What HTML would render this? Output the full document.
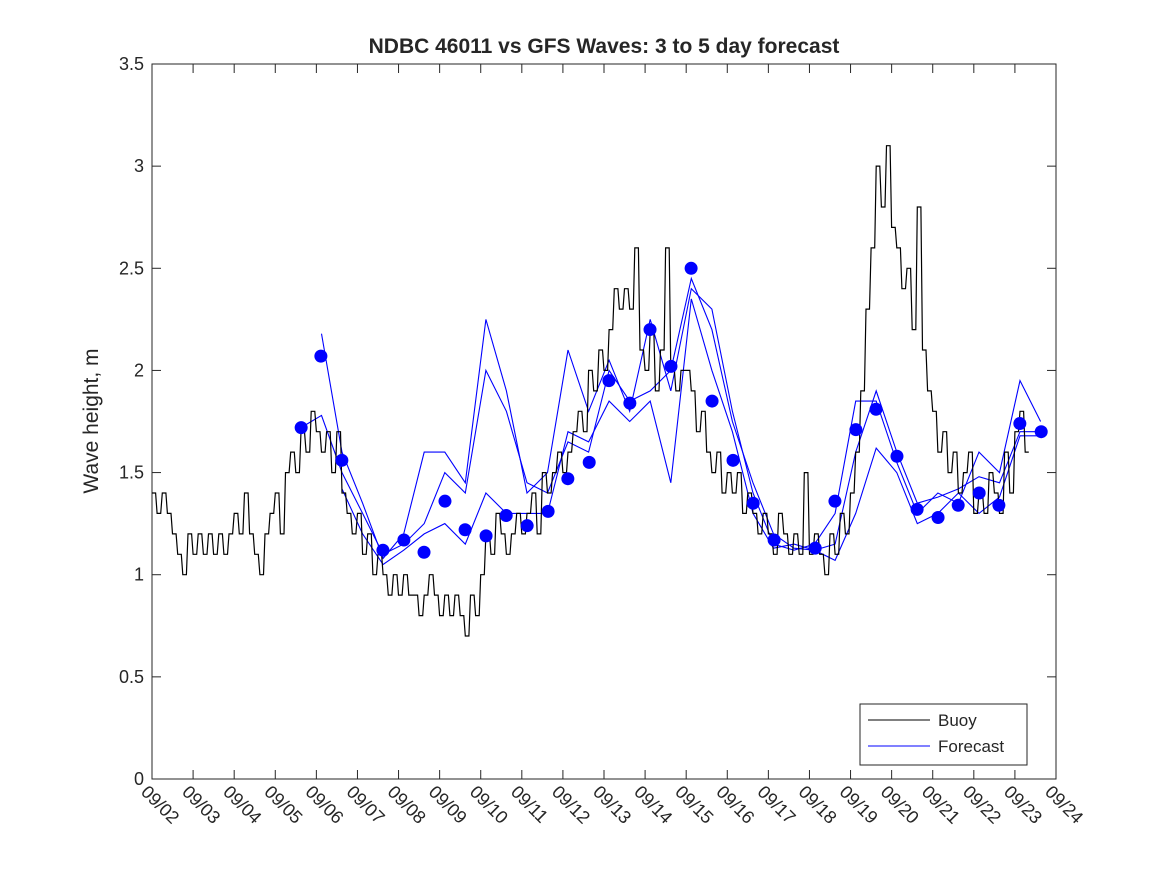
<!DOCTYPE html>
<html><head><meta charset="utf-8"><style>
body{margin:0;background:#fff;}
svg text{font-family:"Liberation Sans","DejaVu Sans",sans-serif;fill:#262626;}
</style></head><body>
<svg id="chart" width="1167" height="875">
<rect width="1167" height="875" fill="#fff"/>
<text x="604" y="53" text-anchor="middle" font-size="21" font-weight="bold" fill="#000">NDBC 46011 vs GFS Waves: 3 to 5 day forecast</text>
<text transform="translate(98,421) rotate(-90)" text-anchor="middle" font-size="21">Wave height, m</text>
<g id="axes"></g>
<g id="series"></g>
<g>
<rect x="860" y="704" width="167" height="61" fill="#fff" stroke="#262626" stroke-width="1"/>
<line x1="868" y1="720" x2="930" y2="720" stroke="#000"/>
<text x="938" y="726" font-size="17">Buoy</text>
<line x1="868" y1="746" x2="930" y2="746" stroke="#0000ff"/>
<text x="938" y="752" font-size="17">Forecast</text>
</g>
</svg>
<script>
const xLabels=["09/02","09/03","09/04","09/05","09/06","09/07","09/08","09/09","09/10","09/11","09/12","09/13","09/14","09/15","09/16","09/17","09/18","09/19","09/20","09/21","09/22","09/23","09/24"];
const yTicks=[0,0.5,1,1.5,2,2.5,3,3.5];
const yTickLabels=["0","0.5","1","1.5","2","2.5","3","3.5"];
// buoy: 3-hourly values starting 09/02 00h
const buoy=[1.4,1.3,1.4,1.3,1.2,1.1,1.0,1.2,
1.1,1.2,1.1,1.2,1.1,1.2,1.1,1.2,
1.3,1.2,1.4,1.2,1.1,1.0,1.2,1.3,
1.4,1.2,1.5,1.6,1.5,1.7,1.6,1.8,
1.7,1.6,1.7,1.5,1.7,1.4,1.3,1.2,
1.3,1.1,1.2,1.0,1.1,1.0,0.9,1.0,
0.9,1.0,0.9,0.9,0.8,0.9,1.0,0.9,
0.8,0.9,0.8,0.9,0.8,0.7,0.9,0.8,
1.0,1.2,1.1,1.3,1.2,1.1,1.2,1.3,
1.2,1.3,1.4,1.2,1.5,1.4,1.5,1.6,
1.5,1.6,1.7,1.8,1.7,2.0,1.9,2.1,
2.0,2.2,2.4,2.3,2.4,2.3,2.6,2.1,
2.0,2.2,1.9,2.1,2.6,2.0,1.9,2.0,
2.0,1.9,1.7,1.8,1.6,1.5,1.6,1.4,
1.5,1.4,1.5,1.3,1.4,1.3,1.2,1.3,
1.2,1.1,1.3,1.2,1.1,1.2,1.1,1.5,
1.1,1.2,1.1,1.0,1.2,1.1,1.3,1.2,
1.4,1.6,1.9,2.3,2.6,3.0,2.8,3.1,
2.7,2.6,2.4,2.5,2.2,2.8,2.1,1.9,
1.8,1.6,1.7,1.5,1.6,1.4,1.5,1.6,
1.3,1.4,1.3,1.5,1.4,1.3,1.6,1.4,
1.7,1.8,1.6];
// forecast lines: half-day steps starting at day 3.625
const fcA=[1.72,1.78,1.5,1.3,1.1,1.15,1.25,1.5,1.4,2.0,1.8,1.45,1.4,1.65,1.6,2.0,1.85,1.9,2.0,2.45,2.2,1.75,1.45,1.2,1.13,1.12,1.15,1.6,1.9,1.6,1.35,1.38,1.42,1.48,1.45,1.7,1.7];
const fcB=[null,2.18,1.6,1.35,1.08,1.2,1.6,1.6,1.45,2.25,1.9,1.4,1.5,2.1,1.8,2.05,1.8,2.25,1.9,2.4,2.3,1.8,1.4,1.15,1.12,1.15,1.3,1.85,1.85,1.55,1.3,1.4,1.35,1.6,1.5,1.95,1.75];
const fcC=[null,null,1.42,1.2,1.05,1.12,1.2,1.25,1.15,1.4,1.3,1.3,1.3,1.7,1.65,1.85,1.75,1.85,1.45,2.35,2.0,1.7,1.3,1.13,1.15,1.12,1.07,1.3,1.62,1.5,1.25,1.3,1.4,1.3,1.38,1.68,1.68];
const dotDays=[3.63,4.11,4.62,5.62,6.13,6.62,7.13,7.62,8.13,8.62,9.13,9.64,10.12,10.64,11.12,11.63,12.12,12.63,13.12,13.63,14.14,14.63,15.14,16.14,16.62,17.13,17.62,18.13,18.62,19.13,19.62,20.13,20.61,21.12,21.64];
const dotVals=[1.72,2.07,1.56,1.12,1.17,1.11,1.36,1.22,1.19,1.29,1.24,1.31,1.47,1.55,1.95,1.84,2.20,2.02,2.50,1.85,1.56,1.35,1.17,1.13,1.36,1.71,1.81,1.58,1.32,1.28,1.34,1.40,1.34,1.74,1.70];

const L=152,R=1056,T=64,B=779;
const xs=d=>L+(R-L)*d/22;
const ys=v=>B-(B-T)*v/3.5;
const NS="http://www.w3.org/2000/svg";
function mk(tag,attrs,parent){const e=document.createElementNS(NS,tag);for(const k in attrs)e.setAttribute(k,attrs[k]);parent.appendChild(e);return e;}
const axes=document.getElementById('axes'),ser=document.getElementById('series');
const frame=mk('rect',{x:L,y:T,width:R-L,height:B-T,fill:'none',stroke:'#262626','stroke-width':1},axes);


xLabels.forEach((lab,i)=>{const x=xs(i);
 mk('line',{x1:x,y1:B,x2:x,y2:B-9,stroke:'#262626'},axes);
 mk('line',{x1:x,y1:T,x2:x,y2:T+9,stroke:'#262626'},axes);
 const t=mk('text',{x:0,y:0,'font-size':18,transform:`translate(${x-12},${B+14}) rotate(45)`},axes);
 t.textContent=lab;
 
 
});
yTicks.forEach((v,i)=>{const y=ys(v);
 mk('line',{x1:L,y1:y,x2:L+9,y2:y,stroke:'#262626'},axes);
 mk('line',{x1:R,y1:y,x2:R-9,y2:y,stroke:'#262626'},axes);
 const t=mk('text',{x:L-8,y:y+6,'text-anchor':'end','font-size':18},axes);
 t.textContent=yTickLabels[i];
 
 
});
function fcPath(arr){let d='',pen=false;arr.forEach((v,i)=>{if(v==null){pen=false;return;}const x=xs(3.625+0.5*i),y=ys(v);d+=(pen?'L':'M')+x.toFixed(1)+','+y.toFixed(1);pen=true;});return d;}
[fcA,fcB,fcC].forEach((arr,k)=>{
 const p=mk('path',{d:fcPath(arr),fill:'none',stroke:'#0000ff','stroke-width':1.1},ser);
 
 
});
// buoy drawn as step-like trace (hold, then jump) to mimic hourly quantized data
let bd='';buoy.forEach((v,i)=>{const x0=xs(i/8),x1=xs((i+0.7)/8),y=ys(v).toFixed(1);bd+=(i?'L':'M')+x0.toFixed(1)+','+y+'L'+x1.toFixed(1)+','+y;});
const bp=mk('path',{d:bd,fill:'none',stroke:'#000','stroke-width':1.2},ser);


dotDays.forEach((d,i)=>{
 const c=mk('circle',{cx:xs(d),cy:ys(dotVals[i]),r:6.5,fill:'#0000ff'},ser);
 
 
});
</script>
</body></html>
